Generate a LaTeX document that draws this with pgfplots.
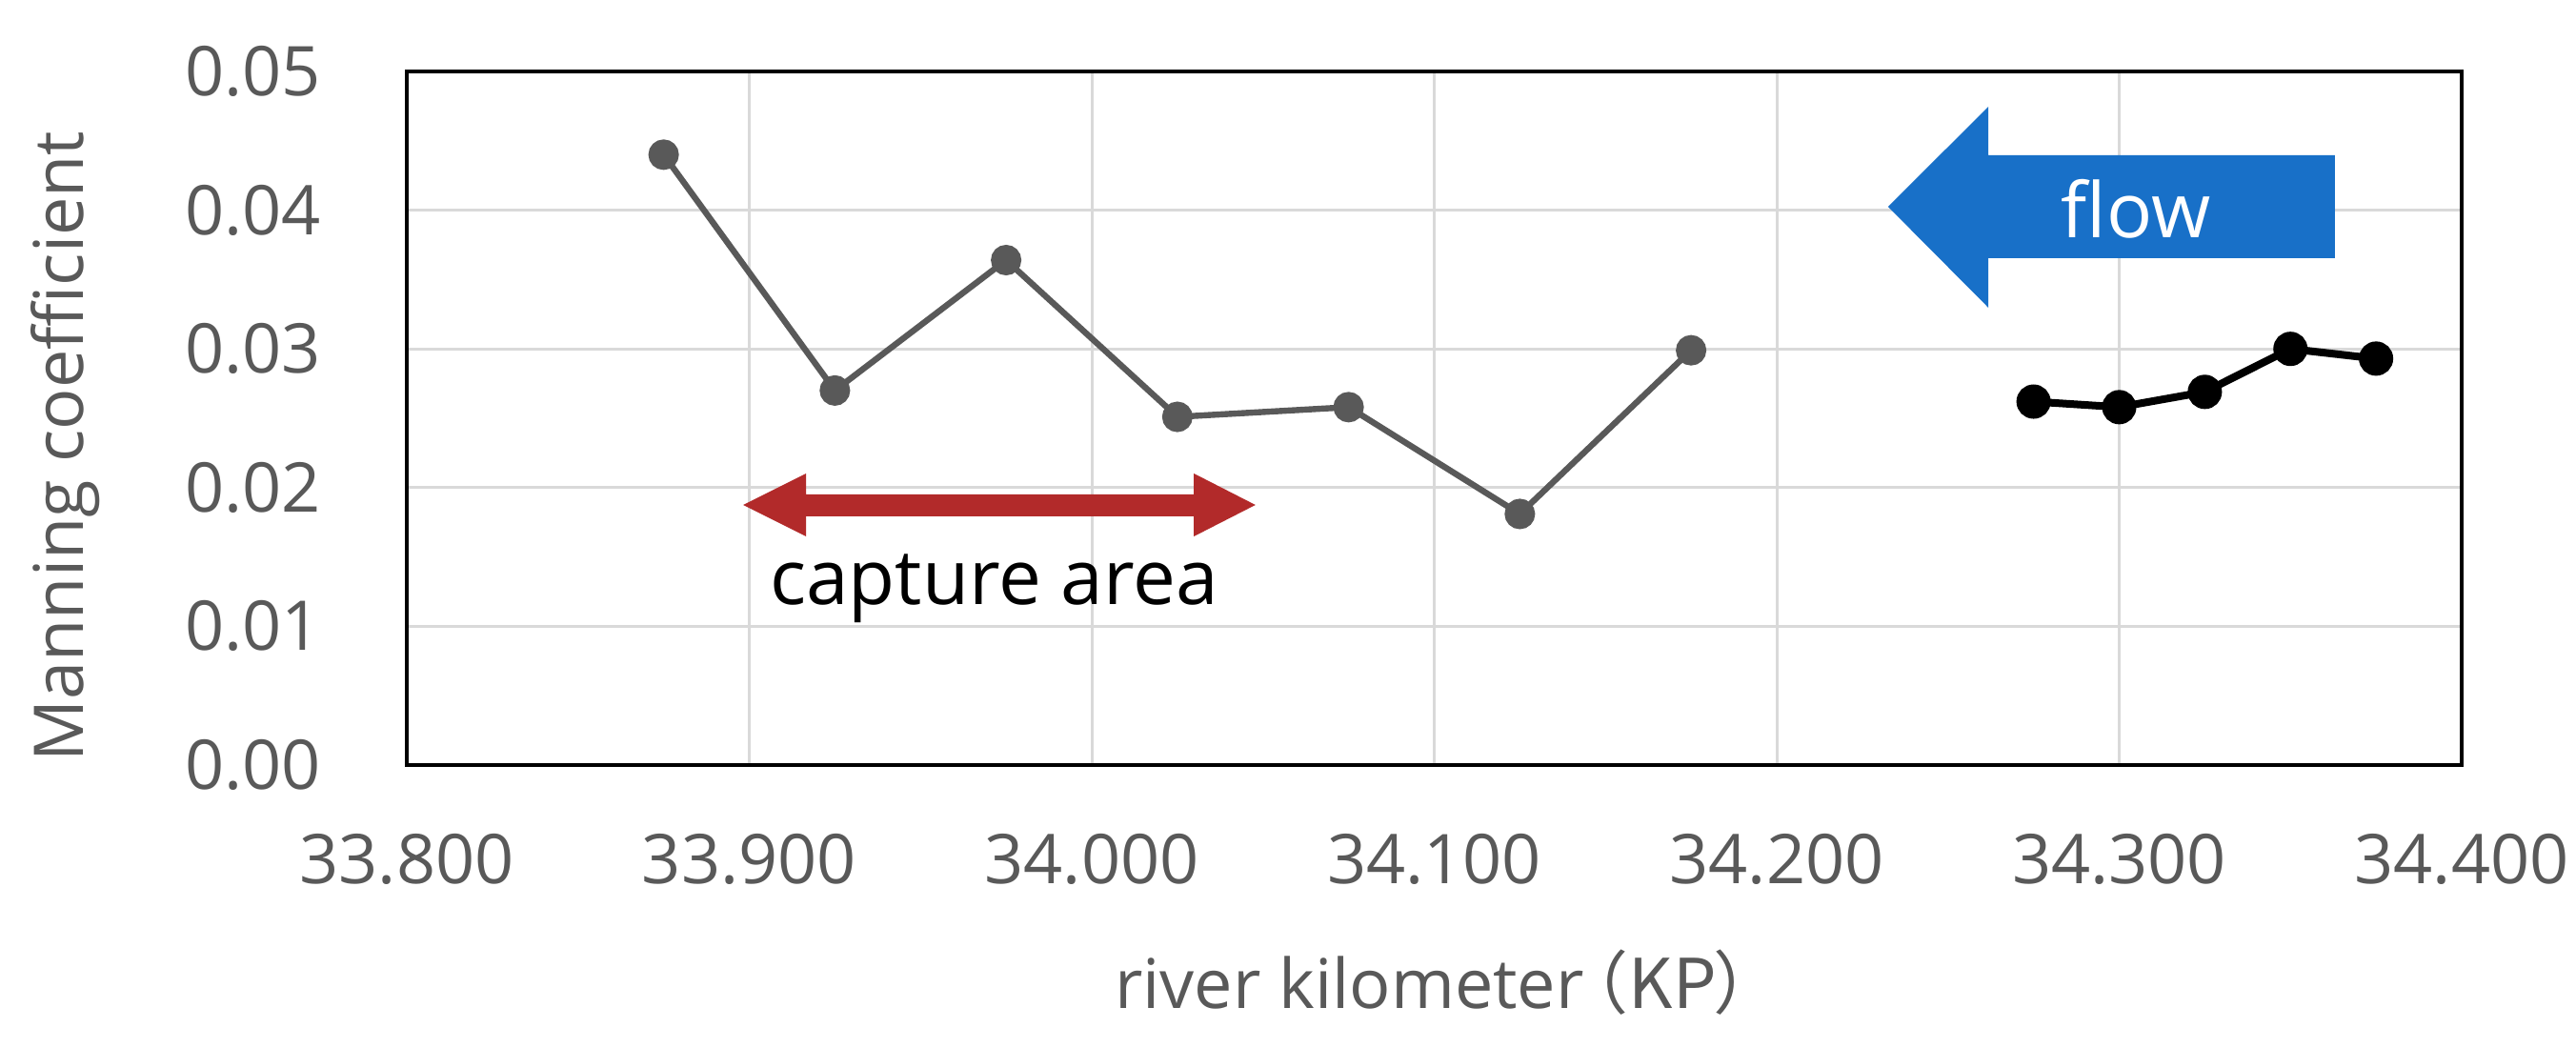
\documentclass[border=0pt]{standalone}
\usepackage{pgfplots}
\pgfplotsset{compat=1.18}
\usepackage{fontspec}
\setmainfont{Open Sans}
\newfontfamily\cjk{Noto Sans CJK JP}
\definecolor{txtgray}{HTML}{595959}
\definecolor{sergray}{HTML}{595959}
\definecolor{gridgray}{HTML}{D9D9D9}
\definecolor{flowblue}{RGB}{24,112,200}
\definecolor{capred}{RGB}{178,42,42}
\begin{document}
\begin{tikzpicture}
\begin{axis}[
  name=ax,
  scale only axis,
  width=539.25pt, height=182pt,
  xmin=33.8, xmax=34.4, ymin=0, ymax=0.05,
  xtick={33.8,33.9,34.0,34.1,34.2,34.3,34.4},
  ytick={0,0.01,0.02,0.03,0.04,0.05},
  scaled x ticks=false, scaled y ticks=false,
  /pgf/number format/assume math mode=true,
  tick label style={font=\fontsize{18}{18}\selectfont, text=txtgray},
  xticklabel style={yshift=-14.5pt, /pgf/number format/.cd, fixed, fixed zerofill, precision=3, 1000 sep={}},
  yticklabel style={xshift=-19pt, /pgf/number format/.cd, fixed, fixed zerofill, precision=2},
  major tick length=0pt,
  grid=major,
  major grid style={color=gridgray, line width=0.75pt},
  axis line style={line width=1.1pt, black},
  xlabel={river kilometer\kern-0.35em\cjk{（}KP\kern-0.05em\cjk{）}\kern-0.6em},
  ylabel={Manning coefficient},
  label style={font=\fontsize{18}{18}\selectfont, text=txtgray},
  xlabel style={at={(axis description cs:0.4968,-0.3503)}, anchor=base},
  ylabel style={at={(axis description cs:-0.1576,0.4595)}, anchor=base},
]
% annotations
\fill[flowblue] (axis cs:34.2325,0.04025) -- (axis cs:34.2618,0.04746) -- (axis cs:34.2618,0.04396) -- (axis cs:34.363,0.04396) -- (axis cs:34.363,0.03654) -- (axis cs:34.2618,0.03654) -- (axis cs:34.2618,0.03297) -- cycle;
\node[anchor=base, text=white, font=\fontsize{20}{20}\selectfont] at (axis cs:34.3049,0.03798) {flow};
\fill[capred] (axis cs:33.8982,0.01875) -- (axis cs:33.9166,0.02102) -- (axis cs:33.9166,0.01951) -- (axis cs:34.0298,0.01951) -- (axis cs:34.0298,0.02102) -- (axis cs:34.0478,0.01875) -- (axis cs:34.0298,0.01648) -- (axis cs:34.0298,0.01793) -- (axis cs:33.9166,0.01793) -- (axis cs:33.9166,0.01648) -- cycle;
\node[anchor=base, text=black, font=\fontsize{20}{20}\selectfont] at (axis cs:33.9715,0.01154) {capture area};
% data
\addplot[color=sergray, line width=1.6pt, mark=*, mark size=3.2pt, mark options={fill=sergray, draw=sergray}] coordinates {
  (33.875,0.0440) (33.925,0.0270) (33.975,0.0364) (34.025,0.0251)
  (34.075,0.0258) (34.125,0.0181) (34.175,0.0299)
};
\addplot[color=black, line width=2pt, mark=*, mark size=3.5pt, mark options={fill=black, draw=black}] coordinates {
  (34.275,0.0262) (34.300,0.0258) (34.325,0.0269) (34.350,0.0300) (34.375,0.0293)
};
\end{axis}
\pgfresetboundingbox
\path (ax.south west) ++(-106.75pt,-74.25pt) rectangle ++(676pt,275pt);
\end{tikzpicture}
\end{document}
